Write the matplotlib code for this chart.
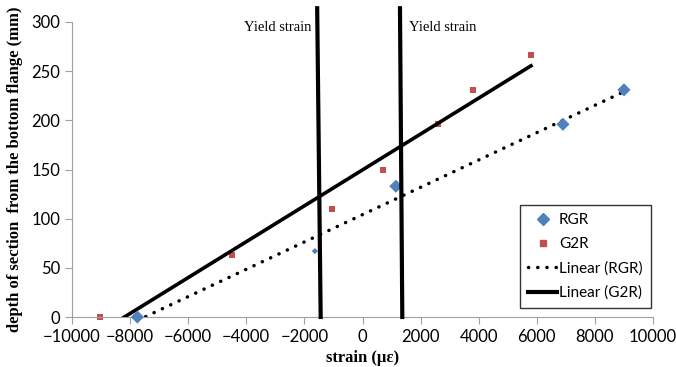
import matplotlib
matplotlib.use("Agg")
import matplotlib.pyplot as plt
import numpy as np
from matplotlib.lines import Line2D

# measured points
rgr_x = [-7750, -1640, 1150, 6900, 9000]
rgr_y = [0, 67, 133, 196, 231]
rgr_size = [45, 10, 45, 45, 45]

g2r_x = [-9030, -4500, -1060, 690, 2610, 3790, 5800]
g2r_y = [0, 63, 110, 150, 196, 231, 266]

# hand-drawn yield strain lines (top, bottom)
yield_left_x = [-1560, -1440]
yield_right_x = [1290, 1370]
yield_y = [314, 0]

xticks = list(range(-10000, 10001, 2000))
yticks = list(range(0, 301, 50))

fig = plt.figure(figsize=(6.76, 3.67), dpi=100)
ax = fig.add_axes([72/676, 1-317/367, (653-72)/676, (317-22)/367])

tick_font = 'Lato'
serif = 'Liberation Serif'
dots = (0, (0.05, 2.6))

def trend(x, y):
    k, b = np.polyfit(x, y, 1)
    xs = np.array([min(x), max(x)])
    return xs, k*xs + b

tx, ty = trend(rgr_x, rgr_y)
ax.plot(tx, ty, color='black', lw=2.5, linestyle=dots, dash_capstyle='round', zorder=3)
tx, ty = trend(g2r_x, g2r_y)
ax.plot(tx, ty, color='black', lw=2.6, zorder=3)

ax.scatter(rgr_x, rgr_y, marker='D', s=rgr_size, color='#4F81BD', zorder=4, clip_on=False, linewidths=0)
ax.scatter(g2r_x, g2r_y, marker='s', s=20, color='#C0504D', zorder=2, clip_on=False, linewidths=0)

ax.plot(yield_left_x, yield_y, color='black', lw=3, clip_on=False, zorder=5)
ax.plot(yield_right_x, yield_y, color='black', lw=3, clip_on=False, zorder=5)

ax.text(-1750, 294, 'Yield strain', family=serif, fontsize=10.5, ha='right', va='center')
ax.text(1600, 294, 'Yield strain', family=serif, fontsize=10.5, ha='left', va='center')

ax.set_xlim(-10000, 10000)
ax.set_ylim(0, 300)
ax.set_xticks(xticks)
ax.set_yticks(yticks)
ax.set_xticklabels([str(t).replace('-', '\u2212') for t in xticks], family=tick_font, fontsize=12)
ax.set_yticklabels([str(t) for t in yticks], family=tick_font, fontsize=12)
for s in ['top', 'right']:
    ax.spines[s].set_visible(False)
for s in ['left', 'bottom']:
    ax.spines[s].set_color('#A0A0A0')
ax.tick_params(colors='#A0A0A0', labelcolor='black', length=5, direction='out')

ax.set_xlabel('strain (\u03bc\u03b5)', family=serif, fontsize=12, fontweight='bold', labelpad=4)
ax.set_ylabel('depth of section  from the bottom flange (mm)', family=serif, fontsize=12,
              fontweight='bold', labelpad=6)

handles = [
    Line2D([], [], marker='D', color='#4F81BD', linestyle='none', markersize=6),
    Line2D([], [], marker='s', color='#C0504D', linestyle='none', markersize=4),
    Line2D([], [], color='black', lw=2.5, linestyle=dots, dash_capstyle='round'),
    Line2D([], [], color='black', lw=3),
]
leg = ax.legend(handles, ['RGR', 'G2R', 'Linear (RGR)', 'Linear (G2R)'],
                loc='upper left', bbox_to_anchor=((520-72)/581, (317-205)/295),
                prop={'family': tick_font, 'size': 11}, frameon=True, fancybox=False,
                handlelength=1.9, handletextpad=0.1, labelspacing=0.65, borderpad=0.55,
                borderaxespad=0)
leg.get_frame().set_edgecolor('black')
leg.get_frame().set_linewidth(1)

fig.savefig('out.png', dpi=100)
